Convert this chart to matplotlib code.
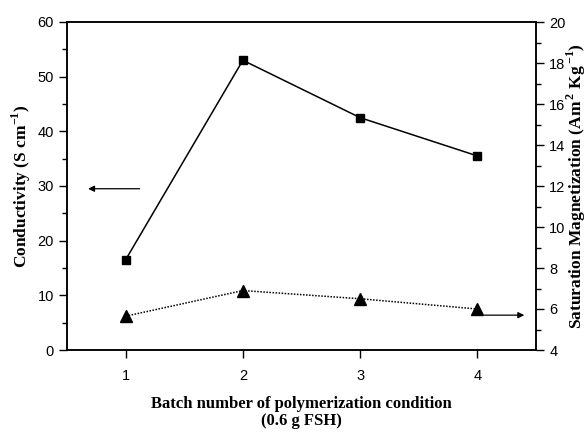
import matplotlib.pyplot as plt
from matplotlib.ticker import MultipleLocator

batch = [1, 2, 3, 4]
conductivity = [16.5, 53, 42.5, 35.5]
magnetization = [5.65, 6.9, 6.5, 6.0]

plt.rcParams['font.family'] = 'Liberation Sans'
plt.rcParams['font.size'] = 10
plt.rcParams['mathtext.fontset'] = 'custom'
plt.rcParams['mathtext.rm'] = 'Liberation Serif:bold'

fig = plt.figure(figsize=(5.88, 4.32), dpi=100)
ax = fig.add_axes([67 / 588, 82 / 432, 469 / 588, 328 / 432])
ax2 = ax.twinx()

ax.plot(batch, conductivity, 'k-', marker='s', markersize=6, linewidth=1.1)
ax2.plot(batch, magnetization, color='k', linestyle=(0, (1, 1)), marker='^',
         markersize=8, linewidth=1.1)

ax.set_xlim(0.5, 4.5)
ax.set_ylim(0, 60)
ax2.set_ylim(4, 20)
ax.set_xticks(batch)
ax.yaxis.set_major_locator(MultipleLocator(10))
ax.yaxis.set_minor_locator(MultipleLocator(5))
ax2.yaxis.set_major_locator(MultipleLocator(2))
ax2.yaxis.set_minor_locator(MultipleLocator(1))

for a in (ax, ax2):
    a.tick_params(which='major', direction='out', length=6, width=1, labelsize=10.5)
    a.tick_params(which='minor', direction='out', length=3.5, width=1)
    for s in a.spines.values():
        s.set_linewidth(1.1)
ax.tick_params(axis='x', pad=8)

lab = dict(family='Liberation Serif', fontweight='bold', fontsize=12.5)
ax.set_xlabel('Batch number of polymerization condition\n(0.6 g FSH)',
              linespacing=1.05, labelpad=9, family='Liberation Serif',
              fontweight='bold', fontsize=12)
ax.set_ylabel(r'Conductivity (S cm$^{\mathrm{-1}}$)', labelpad=3, **lab)
ax2.set_ylabel(r'Saturation Magnetization (Am$^{\,\mathrm{2}}$ Kg$^{\,\mathrm{-1}}$)', **lab)
ax2.yaxis.set_label_coords(1.062, 0.5)

ax.annotate('', xy=(0.68, 29.5), xytext=(1.12, 29.5),
            arrowprops=dict(arrowstyle='-|>', color='k', lw=0.9, mutation_scale=9,
                            shrinkA=0, shrinkB=0))
ax2.annotate('', xy=(4.4, 5.7), xytext=(4.06, 5.7),
             arrowprops=dict(arrowstyle='-|>', color='k', lw=0.9, mutation_scale=9,
                             shrinkA=0, shrinkB=0))

fig.savefig('out.png', dpi=100)
